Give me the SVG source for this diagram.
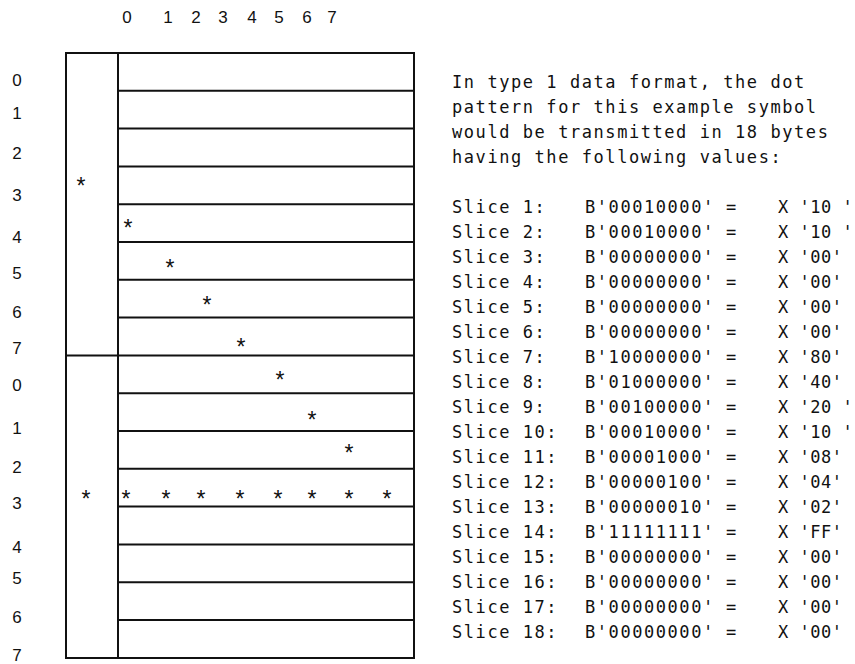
<svg xmlns="http://www.w3.org/2000/svg" width="855" height="664" viewBox="0 0 855 664">
<style>
.lbl{font-family:"Liberation Sans",Arial,sans-serif;font-size:17px;fill:#111;text-anchor:middle}
.ast{font-family:"Liberation Sans",Arial,sans-serif;font-size:23px;fill:#111;text-anchor:middle}
.txt{font-family:"DejaVu Sans Mono",monospace;font-size:17px;letter-spacing:1.56px;fill:#111;white-space:pre}
.hx{letter-spacing:0.5px}
.ln{stroke:#111;stroke-width:2;fill:none}
</style>
<rect width="855" height="664" fill="#fff"/>
<g id="column-labels">
<text class="lbl" x="127" y="23">0</text>
<text class="lbl" x="168" y="23">1</text>
<text class="lbl" x="196" y="23">2</text>
<text class="lbl" x="223" y="23">3</text>
<text class="lbl" x="252" y="23">4</text>
<text class="lbl" x="279" y="23">5</text>
<text class="lbl" x="307" y="23">6</text>
<text class="lbl" x="332" y="23">7</text>
</g>
<g id="row-labels">
<text class="lbl" x="17" y="86">0</text>
<text class="lbl" x="17" y="119">1</text>
<text class="lbl" x="17" y="159">2</text>
<text class="lbl" x="17" y="201">3</text>
<text class="lbl" x="17" y="243">4</text>
<text class="lbl" x="17" y="279">5</text>
<text class="lbl" x="17" y="318">6</text>
<text class="lbl" x="17" y="354">7</text>
<text class="lbl" x="17" y="391">0</text>
<text class="lbl" x="17" y="434">1</text>
<text class="lbl" x="17" y="473">2</text>
<text class="lbl" x="17" y="509">3</text>
<text class="lbl" x="17" y="553">4</text>
<text class="lbl" x="17" y="584">5</text>
<text class="lbl" x="17" y="623">6</text>
<text class="lbl" x="17" y="661">7</text>
</g>
<g id="grid">
<rect class="ln" x="66" y="53" width="348" height="605"/>
<line class="ln" x1="118" y1="53" x2="118" y2="658"/>
<line class="ln" x1="118" y1="90.8" x2="414" y2="90.8"/>
<line class="ln" x1="118" y1="128.6" x2="414" y2="128.6"/>
<line class="ln" x1="118" y1="166.4" x2="414" y2="166.4"/>
<line class="ln" x1="118" y1="204.2" x2="414" y2="204.2"/>
<line class="ln" x1="118" y1="242" x2="414" y2="242"/>
<line class="ln" x1="118" y1="279.8" x2="414" y2="279.8"/>
<line class="ln" x1="118" y1="317.6" x2="414" y2="317.6"/>
<line class="ln" x1="66" y1="355.4" x2="414" y2="355.4"/>
<line class="ln" x1="118" y1="393.2" x2="414" y2="393.2"/>
<line class="ln" x1="118" y1="431" x2="414" y2="431"/>
<line class="ln" x1="118" y1="468.8" x2="414" y2="468.8"/>
<line class="ln" x1="118" y1="506.6" x2="414" y2="506.6"/>
<line class="ln" x1="118" y1="544.4" x2="414" y2="544.4"/>
<line class="ln" x1="118" y1="582.2" x2="414" y2="582.2"/>
<line class="ln" x1="118" y1="620" x2="414" y2="620"/>
</g>
<g id="dots">
<text class="ast" x="81" y="194">*</text>
<text class="ast" x="128" y="236">*</text>
<text class="ast" x="170" y="276">*</text>
<text class="ast" x="207" y="313">*</text>
<text class="ast" x="241" y="355">*</text>
<text class="ast" x="280" y="388">*</text>
<text class="ast" x="312" y="428">*</text>
<text class="ast" x="349" y="461">*</text>
<text class="ast" x="86" y="507">*</text>
<text class="ast" x="126" y="507">*</text>
<text class="ast" x="166" y="507">*</text>
<text class="ast" x="201" y="507">*</text>
<text class="ast" x="240" y="507">*</text>
<text class="ast" x="278" y="507">*</text>
<text class="ast" x="312" y="507">*</text>
<text class="ast" x="349" y="507">*</text>
<text class="ast" x="387" y="507">*</text>
</g>
<g id="description">
<text class="txt" x="452" y="88">In type 1 data format, the dot</text>
<text class="txt" x="452" y="113">pattern for this example symbol</text>
<text class="txt" x="452" y="138">would be transmitted in 18 bytes</text>
<text class="txt" x="452" y="163">having the following values:</text>
</g>
<g id="slices">
<text class="txt" y="213"><tspan x="452">Slice 1:</tspan><tspan x="585">B'00010000'</tspan><tspan x="726">=</tspan><tspan class="hx" x="778">X '10 '</tspan></text>
<text class="txt" y="238"><tspan x="452">Slice 2:</tspan><tspan x="585">B'00010000'</tspan><tspan x="726">=</tspan><tspan class="hx" x="778">X '10 '</tspan></text>
<text class="txt" y="263"><tspan x="452">Slice 3:</tspan><tspan x="585">B'00000000'</tspan><tspan x="726">=</tspan><tspan class="hx" x="778">X '00'</tspan></text>
<text class="txt" y="288"><tspan x="452">Slice 4:</tspan><tspan x="585">B'00000000'</tspan><tspan x="726">=</tspan><tspan class="hx" x="778">X '00'</tspan></text>
<text class="txt" y="313"><tspan x="452">Slice 5:</tspan><tspan x="585">B'00000000'</tspan><tspan x="726">=</tspan><tspan class="hx" x="778">X '00'</tspan></text>
<text class="txt" y="338"><tspan x="452">Slice 6:</tspan><tspan x="585">B'00000000'</tspan><tspan x="726">=</tspan><tspan class="hx" x="778">X '00'</tspan></text>
<text class="txt" y="363"><tspan x="452">Slice 7:</tspan><tspan x="585">B'10000000'</tspan><tspan x="726">=</tspan><tspan class="hx" x="778">X '80'</tspan></text>
<text class="txt" y="388"><tspan x="452">Slice 8:</tspan><tspan x="585">B'01000000'</tspan><tspan x="726">=</tspan><tspan class="hx" x="778">X '40'</tspan></text>
<text class="txt" y="413"><tspan x="452">Slice 9:</tspan><tspan x="585">B'00100000'</tspan><tspan x="726">=</tspan><tspan class="hx" x="778">X '20 '</tspan></text>
<text class="txt" y="438"><tspan x="452">Slice 10:</tspan><tspan x="585">B'00010000'</tspan><tspan x="726">=</tspan><tspan class="hx" x="778">X '10 '</tspan></text>
<text class="txt" y="463"><tspan x="452">Slice 11:</tspan><tspan x="585">B'00001000'</tspan><tspan x="726">=</tspan><tspan class="hx" x="778">X '08'</tspan></text>
<text class="txt" y="488"><tspan x="452">Slice 12:</tspan><tspan x="585">B'00000100'</tspan><tspan x="726">=</tspan><tspan class="hx" x="778">X '04'</tspan></text>
<text class="txt" y="513"><tspan x="452">Slice 13:</tspan><tspan x="585">B'00000010'</tspan><tspan x="726">=</tspan><tspan class="hx" x="778">X '02'</tspan></text>
<text class="txt" y="538"><tspan x="452">Slice 14:</tspan><tspan x="585">B'11111111'</tspan><tspan x="726">=</tspan><tspan class="hx" x="778">X 'FF'</tspan></text>
<text class="txt" y="563"><tspan x="452">Slice 15:</tspan><tspan x="585">B'00000000'</tspan><tspan x="726">=</tspan><tspan class="hx" x="778">X '00'</tspan></text>
<text class="txt" y="588"><tspan x="452">Slice 16:</tspan><tspan x="585">B'00000000'</tspan><tspan x="726">=</tspan><tspan class="hx" x="778">X '00'</tspan></text>
<text class="txt" y="613"><tspan x="452">Slice 17:</tspan><tspan x="585">B'00000000'</tspan><tspan x="726">=</tspan><tspan class="hx" x="778">X '00'</tspan></text>
<text class="txt" y="638"><tspan x="452">Slice 18:</tspan><tspan x="585">B'00000000'</tspan><tspan x="726">=</tspan><tspan class="hx" x="778">X '00'</tspan></text>
</g>
</svg>
